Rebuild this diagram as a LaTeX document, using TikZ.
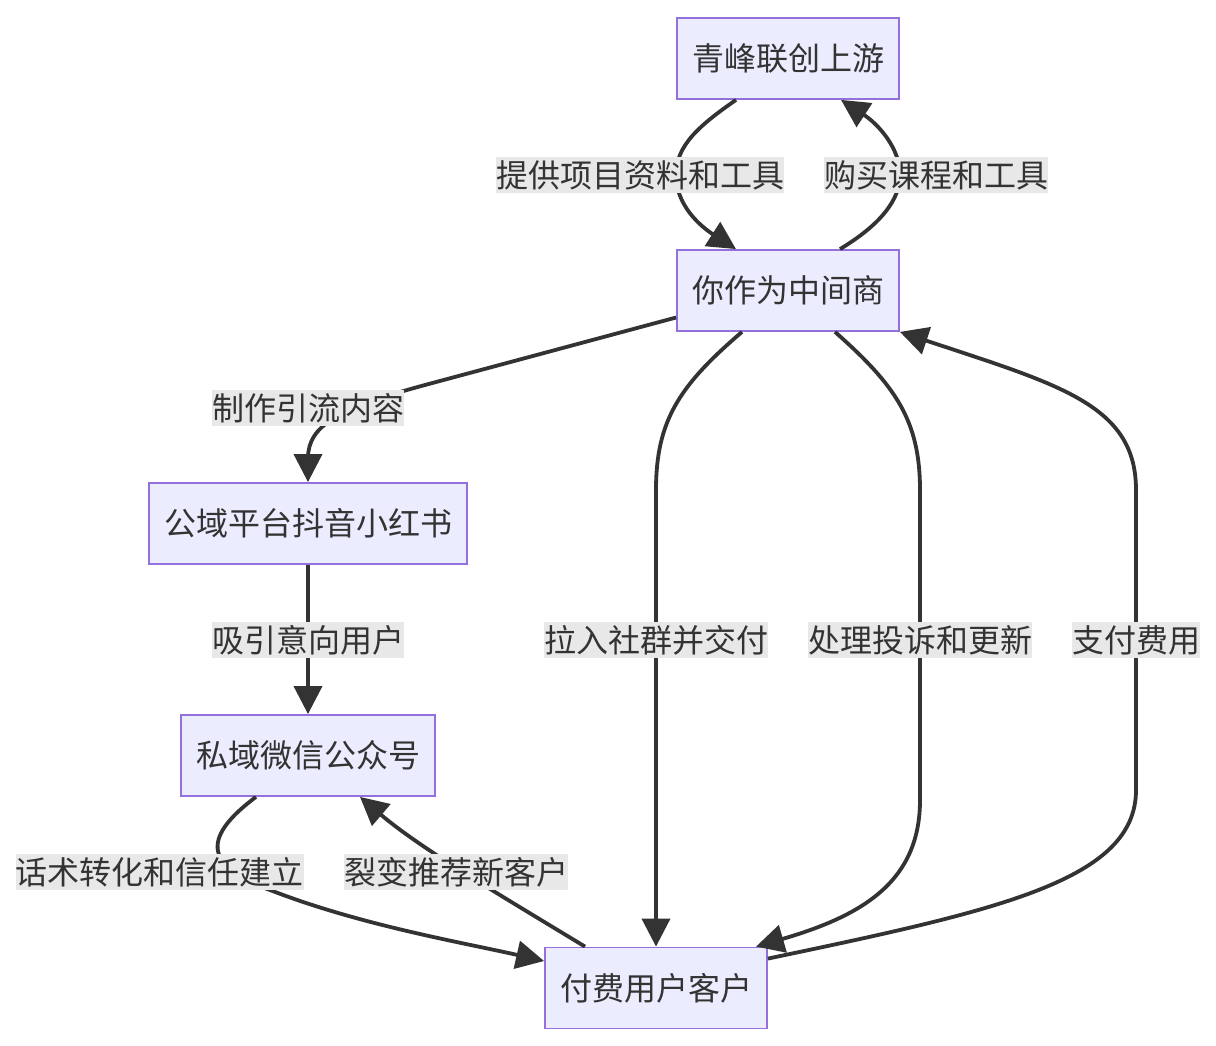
\documentclass[tikz,border=0pt]{standalone}
\usepackage{fontspec}
\newfontfamily\cjk{Noto Sans CJK SC}
\usetikzlibrary{arrows.meta,calc}
\definecolor{nodefill}{HTML}{ECECFF}
\definecolor{nodeborder}{HTML}{9370DB}
\definecolor{ink}{HTML}{333333}
\definecolor{lblbg}{HTML}{E8E8E8}
\begin{document}
\begin{tikzpicture}[x=1pt,y=-1pt,
  box/.style={draw=nodeborder,fill=nodefill,line width=1.8pt,minimum height=81pt,inner sep=0pt,font=\cjk\fontsize{32}{38}\selectfont,text=ink},
  lbl/.style={fill=lblbg,inner xsep=0pt,inner ysep=0pt,minimum height=36pt,font=\cjk\fontsize{32}{38}\selectfont,text=ink},
  conn/.style={draw=ink,line width=3.8pt,-{Triangle[length=28pt 0 0,width=28pt 0 0]}}]
\useasboundingbox (0,0) rectangle (1216,1046);

\node[box,minimum width=222pt] (A) at (788,58.5) {青峰联创上游};
\node[box,minimum width=222pt] (B) at (788,290.5) {你作为中间商};
\node[box,minimum width=318pt] (C) at (308,523.5) {公域平台抖音小红书};
\node[box,minimum width=254pt] (D) at (308,755.5) {私域微信公众号};
\node[box,minimum width=222pt] (E) at (656,988) {付费用户客户};

% A -> B
\draw[conn] ($(A.south)+(-52,0)$) .. controls (700,125) and (676,145) .. (676,175)
  .. controls (676,205) and (700,226) .. ($(B.north)+(-52,0)$);
% B -> A
\draw[conn] ($(B.north)+(52,0)$) .. controls (880,225) and (900,200) .. (900,175)
  .. controls (900,148) and (878,124) .. ($(A.south)+(53,0)$);
% B -> C
\draw[conn] ($(B.west)+(0,27)$) -- (425,385) .. controls (340,408) and (308,425) .. (308,458) -- (C.north);
% C -> D
\draw[conn] (C.south) -- (D.north);
% B -> E (拉入)
\draw[conn] ($(B.south)+(-46,0)$) .. controls (680,385) and (656,420) .. (656,490) -- (E.north);
% B -> E (处理)
\draw[conn] ($(B.south)+(47,0)$) .. controls (895,385) and (920,420) .. (920,490) -- (920,800)
  .. controls (920,880) and (865,915) .. ($(E.north)+(100,0)$);
% E -> B (支付)
\draw[conn] ($(E.north east)+(0,12)$) .. controls (1000,910) and (1136,880) .. (1136,790) -- (1136,490)
  .. controls (1136,405) and (1060,385) .. (B.south east);
% D -> E (话术)
\draw[conn] ($(D.south)+(-52,0)$) .. controls (205,835) and (200,865) .. (270,890)
  .. controls (360,925) and (460,942) .. ($(E.west)+(0,-27)$);
% E -> D (裂变)
\draw[conn] ($(E.north)+(-71,0)$) .. controls (500,895) and (420,848) .. ($(D.south)+(52,0)$);

\node[lbl] (l1) at (640,175) {提供项目资料和工具};
\node[lbl] (l2) at (936,175) {购买课程和工具};
\node[lbl] (l3) at (308,408) {制作引流内容};
\node[lbl] (l4) at (308,640) {吸引意向用户};
\node[lbl] (l5) at (656,640) {拉入社群并交付};
\node[lbl] (l6) at (920,640) {处理投诉和更新};
\node[lbl] (l7) at (1136,640) {支付费用};
\node[lbl] (l8) at (160,872) {话术转化和信任建立};
\node[lbl] (l9) at (456,872) {裂变推荐新客户};
\end{tikzpicture}
\end{document}
